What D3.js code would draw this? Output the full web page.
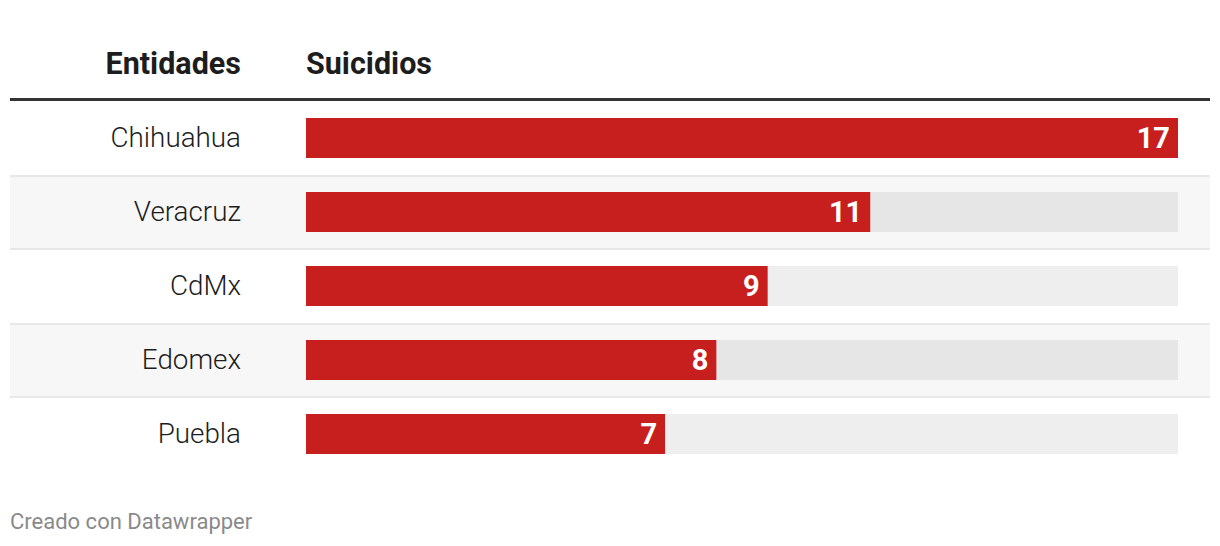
<!DOCTYPE html>
<html><head><meta charset="utf-8">
<script src="https://cdn.jsdelivr.net/npm/d3@7"></script>
<style>body{margin:0;background:#fff;font-family:Roboto,sans-serif;}</style>
</head><body>
<svg id="c" width="1220" height="546"></svg>
<script>
const categories = ["Chihuahua","Veracruz","CdMx","Edomex","Puebla"];
const values = [17,11,9,8,7];
const headers = ["Entidades","Suicidios"];
const footer = "Creado con Datawrapper";

const svg = d3.select("#c");
const rowTop = 101, rowH = 74;
const x = d3.scaleLinear().domain([0, d3.max(values)]).range([306, 1178]);
const y = d3.scaleBand().domain(categories).range([rowTop, rowTop + rowH*categories.length]);

// header
svg.append("text").attr("x",241).attr("y",74).attr("text-anchor","end")
  .attr("font-size",30.5).attr("font-weight",700).attr("fill","#1d1d1d").text(headers[0]);
svg.append("text").attr("x",306).attr("y",74)
  .attr("font-size",30.5).attr("font-weight",700).attr("fill","#1d1d1d").text(headers[1]);
svg.append("rect").attr("x",10).attr("y",98).attr("width",1200).attr("height",3).attr("fill","#333");

const rows = svg.selectAll("g.row").data(categories).join("g").attr("class","row");
rows.each(function(d,i){
  const g = d3.select(this);
  const top = y(d);
  if (i % 2 === 1) {
    g.append("rect").attr("x",10).attr("y",top).attr("width",1200).attr("height",rowH).attr("fill","#f7f7f7");
    g.append("rect").attr("x",10).attr("y",top).attr("width",1200).attr("height",2).attr("fill","#e8e8e8");
    g.append("rect").attr("x",10).attr("y",top+rowH-1).attr("width",1200).attr("height",2).attr("fill","#e8e8e8");
  }
  g.append("rect").attr("x",x(0)).attr("y",top+17).attr("width",x(d3.max(values))-x(0)).attr("height",40)
    .attr("fill", i%2===1 ? "#e6e6e6" : "#eeeeee");
  g.append("rect").attr("x",x(0)).attr("y",top+17).attr("width",x(values[i])-x(0)).attr("height",40)
    .attr("fill","#c71e1e");
  g.append("text").attr("x",x(values[i])-8).attr("y",top+47).attr("text-anchor","end")
    .attr("font-size",29).attr("font-weight",700).attr("fill","#fff").text(values[i]);
  g.append("text").attr("x",241).attr("y",top+46).attr("text-anchor","end")
    .attr("font-size",27.8).attr("font-weight",300).attr("fill","#1d1d1d").text(d);
});

svg.append("text").attr("x",10).attr("y",529).attr("font-size",22).attr("fill","#8a8a8a").text(footer);
</script>
</body></html>
